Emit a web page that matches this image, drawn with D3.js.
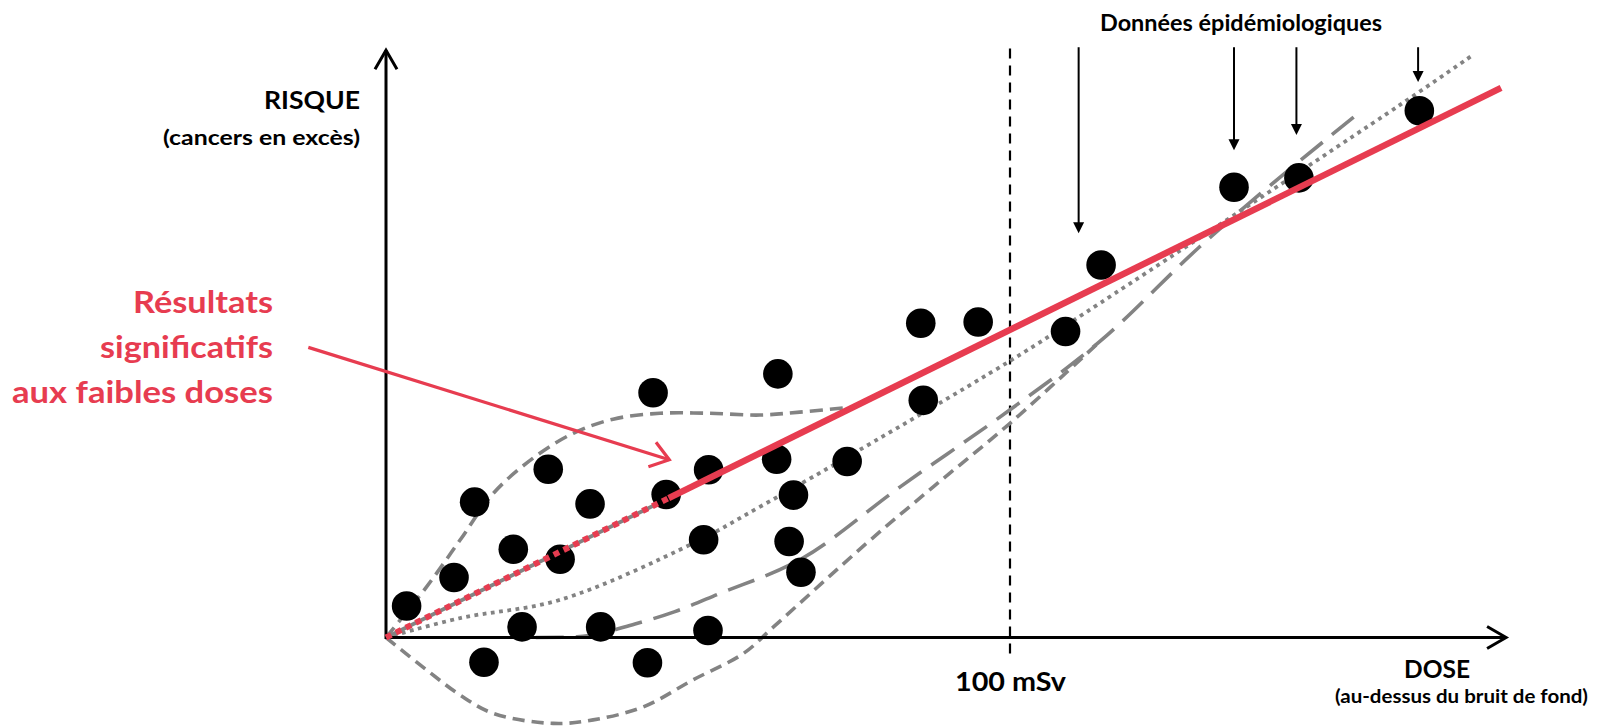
<!DOCTYPE html>
<html>
<head>
<meta charset="utf-8">
<script src="https://cdn.jsdelivr.net/npm/d3@7"></script>
<style>
  html, body { margin: 0; padding: 0; background: #fff; }
  svg { display: block; }
  text { font-family: Lato, "Open Sans", sans-serif; font-weight: 700; }
</style>
</head>
<body>
<svg id="chart" width="1597" height="727"></svg>
<script>
// ---------- DATA (dose in mSv, risk in arbitrary units) ----------
const dotDose = [3.3, 10.9, 14.2, 20.4, 26.0, 27.9, 32.7, 21.8, 15.7, 34.4, 41.9, 51.6, 44.9, 51.7, 50.9,
                 42.8, 62.8, 62.6, 65.3, 64.6, 66.5, 73.9, 85.7, 94.9, 86.1, 108.9, 114.6, 135.9, 146.3, 165.6];
const dotRisk = [5.35, 10.2, 23.0, 15.0, 28.6, 13.3, 22.7, 1.8, -4.2, 1.8, -4.3, 1.2, 24.3, 28.5, 16.6,
                 41.6, 44.8, 30.3, 24.2, 16.3, 11.1, 29.9, 53.4, 53.6, 40.3, 52.0, 63.3, 76.5, 78.1, 89.5];

// linear (red) model
const linearDose = [0, 178.7];
const linearRisk = [0, 93.4];
const significantFrom = 45.3;   // dose where the red line becomes solid

// supralinear (upper dashed) curve
const supraDose = [0, 6.5, 11.9, 17.2, 23.6, 30.0, 36.4, 43.9, 51.9, 59.9, 66.3, 73.2];
const supraRisk = [0, 8.6, 16.6, 24.5, 30.5, 34.7, 37.1, 38.1, 38.1, 37.8, 38.3, 39.0];

// hormesis (lower dashed) curve
const hormDose = [0, 6.5, 11.9, 17.2, 26.8, 33.2, 41.2, 49.2, 57.3, 62.1, 77.0, 87.7, 100, 114.4];
const hormRisk = [0, -5.5, -9.8, -12.9, -14.6, -14.0, -11.8, -7.2, -2.7, 1.8, 16.0, 25.6, 36.4, 50.3];

// threshold (long dashed) curve
const threshDose = [24, 30.6, 39.9, 46.3, 53.3, 66.3, 82.4, 100, 114.4, 130.4, 156.1];
const threshRisk = [0, 0.1, 2.3, 4.4, 7.4, 13.2, 25.6, 38.7, 50.3, 66.4, 89.3];

// linear-quadratic (dotted) curve
const lqDose = [0, 11.9, 27.9, 49.2, 59.9, 71.7, 100, 114.4, 162.5, 174.2];
const lqRisk = [0, 3.3, 6.4, 16.0, 22.2, 29.3, 47.0, 56.8, 90.5, 99.0];

// epidemiological data arrows
const epiArrowDose = [111.0, 135.9, 145.9, 165.4];
const epiArrowTip  = [68.7, 82.8, 85.4, 94.4];
const epiArrowTop  = 100.3;

// annotation arrow (red)
const noteArrowDose = [-12.45, 45.4];
const noteArrowRisk = [49.3, 30.2];

const thresholdDose = 100;
const axisMaxDose = 179.5, axisMaxRisk = 99.8;

const labels = {
  yTitle: "RISQUE", ySub: "(cancers en excès)",
  xTitle: "DOSE", xSub: "(au-dessus du bruit de fond)",
  tick: "100 mSv", epi: "Données épidémiologiques",
  note: ["Résultats", "significatifs", "aux faibles doses"]
};

// ---------- DRAW ----------
const svg = d3.select("#chart");
const x = d3.scaleLinear().domain([0, 100]).range([386, 1010]);
const y = d3.scaleLinear().domain([0, 100]).range([637.5, 49]);

const RED = "#e73c50", GRAY = "#838383";

const zip = (a, b) => a.map((v, i) => [v, b[i]]);
const lineCR = d3.line().x(d => x(d[0])).y(d => y(d[1])).curve(d3.curveCatmullRom.alpha(0.5));
const lineMono = d3.line().x(d => x(d[0])).y(d => y(d[1])).curve(d3.curveMonotoneX);
const lineLin = d3.line().x(d => x(d[0])).y(d => y(d[1]));

// 100 mSv vertical dashed line
svg.append("line")
  .attr("x1", x(thresholdDose)).attr("x2", x(thresholdDose))
  .attr("y1", y(100.1)).attr("y2", y(-3.2))
  .attr("stroke", "#000").attr("stroke-width", 2.2).attr("stroke-dasharray", "10,7");

// gray model curves
svg.append("path").attr("d", lineCR(zip(supraDose, supraRisk)))
  .attr("fill", "none").attr("stroke", GRAY).attr("stroke-width", 3.6).attr("stroke-dasharray", "13,7");
svg.append("path").attr("d", lineCR(zip(hormDose, hormRisk)))
  .attr("fill", "none").attr("stroke", GRAY).attr("stroke-width", 3.6).attr("stroke-dasharray", "12,7");
svg.append("path").attr("d", lineMono(zip(threshDose, threshRisk)))
  .attr("fill", "none").attr("stroke", GRAY).attr("stroke-width", 3.6).attr("stroke-dasharray", "28,12");
svg.append("path").attr("d", lineCR(zip(lqDose, lqRisk)))
  .attr("fill", "none").attr("stroke", GRAY).attr("stroke-width", 3.8).attr("stroke-dasharray", "3.8,4.5");

// gray linear line under red dotted part
const linSlope = (linearRisk[1] - linearRisk[0]) / (linearDose[1] - linearDose[0]);
svg.append("path").attr("d", lineLin([[0, 0], [significantFrom, significantFrom * linSlope]]))
  .attr("fill", "none").attr("stroke", GRAY).attr("stroke-width", 3.8);

// axes
svg.append("line").attr("x1", x(0)).attr("x2", x(axisMaxDose)).attr("y1", y(0)).attr("y2", y(0))
  .attr("stroke", "#000").attr("stroke-width", 3);
svg.append("line").attr("x1", x(0)).attr("x2", x(0)).attr("y1", y(0) + 1.5).attr("y2", y(axisMaxRisk))
  .attr("stroke", "#000").attr("stroke-width", 3);
// arrowheads (open chevrons)
const xt = x(axisMaxDose), yt = y(0);
svg.append("path").attr("d", `M${xt - 19},${yt - 11} L${xt},${yt} L${xt - 19},${yt + 11}`)
  .attr("fill", "none").attr("stroke", "#000").attr("stroke-width", 3);
const ax = x(0), ay = y(axisMaxRisk);
svg.append("path").attr("d", `M${ax - 11},${ay + 19} L${ax},${ay} L${ax + 11},${ay + 19}`)
  .attr("fill", "none").attr("stroke", "#000").attr("stroke-width", 3);

// dots
svg.append("g").selectAll("circle").data(zip(dotDose, dotRisk)).join("circle")
  .attr("cx", d => x(d[0])).attr("cy", d => y(d[1])).attr("r", 14.8).attr("fill", "#000");

// red linear line: dotted part then solid part
svg.append("path").attr("d", lineLin([[0, 0], [significantFrom, significantFrom * linSlope]]))
  .attr("fill", "none").attr("stroke", RED).attr("stroke-width", 6).attr("stroke-dasharray", "6,5");
svg.append("path").attr("d", lineLin([[significantFrom, significantFrom * linSlope], [linearDose[1], linearRisk[1]]]))
  .attr("fill", "none").attr("stroke", RED).attr("stroke-width", 6.5);

// epidemiological arrows
const epi = svg.append("g");
epiArrowDose.forEach((d, i) => {
  const px = x(d), top = y(epiArrowTop), tip = y(epiArrowTip[i]);
  epi.append("line").attr("x1", px).attr("x2", px).attr("y1", top).attr("y2", tip - 8)
    .attr("stroke", "#000").attr("stroke-width", 2);
  epi.append("path").attr("d", `M${px - 5.5},${tip - 11} L${px + 5.5},${tip - 11} L${px},${tip} Z`).attr("fill", "#000");
});

// red annotation arrow
const n0 = [x(noteArrowDose[0]), y(noteArrowRisk[0])], n1 = [x(noteArrowDose[1]), y(noteArrowRisk[1])];
svg.append("line").attr("x1", n0[0]).attr("y1", n0[1]).attr("x2", n1[0]).attr("y2", n1[1])
  .attr("stroke", RED).attr("stroke-width", 3.2);
{
  const ang = Math.atan2(n1[1] - n0[1], n1[0] - n0[0]);
  const L = 22, spread = 0.62;
  const p1 = [n1[0] - L * Math.cos(ang - spread), n1[1] - L * Math.sin(ang - spread)];
  const p2 = [n1[0] - L * Math.cos(ang + spread), n1[1] - L * Math.sin(ang + spread)];
  svg.append("path").attr("d", `M${p1[0]},${p1[1]} L${n1[0]},${n1[1]} L${p2[0]},${p2[1]}`)
    .attr("fill", "none").attr("stroke", RED).attr("stroke-width", 3.2);
}

// texts
function txt(s, xx, yy, size, anchor, len, color) {
  const t = svg.append("text").attr("x", xx).attr("y", yy).attr("font-size", size)
    .attr("text-anchor", anchor).attr("fill", color || "#000").text(s);
  if (len) t.attr("textLength", len).attr("lengthAdjust", "spacingAndGlyphs");
  return t;
}
txt(labels.yTitle, 360, 109, 25, "end", 96);
txt(labels.ySub, 360, 145, 20.5, "end", 197);
txt(labels.xTitle, 1470, 678, 25, "end", 66);
txt(labels.xSub, 1588, 703, 19.5, "end", 253);
txt(labels.tick, 1010.5, 690.5, 26, "middle", 111);
txt(labels.epi, 1241, 30.5, 22.5, "middle", 282);
txt(labels.note[0], 273, 313.3, 30, "end", 140, RED);
txt(labels.note[1], 273, 358.3, 30, "end", 173, RED);
txt(labels.note[2], 273, 403.3, 30, "end", 261, RED);
</script>
</body>
</html>
